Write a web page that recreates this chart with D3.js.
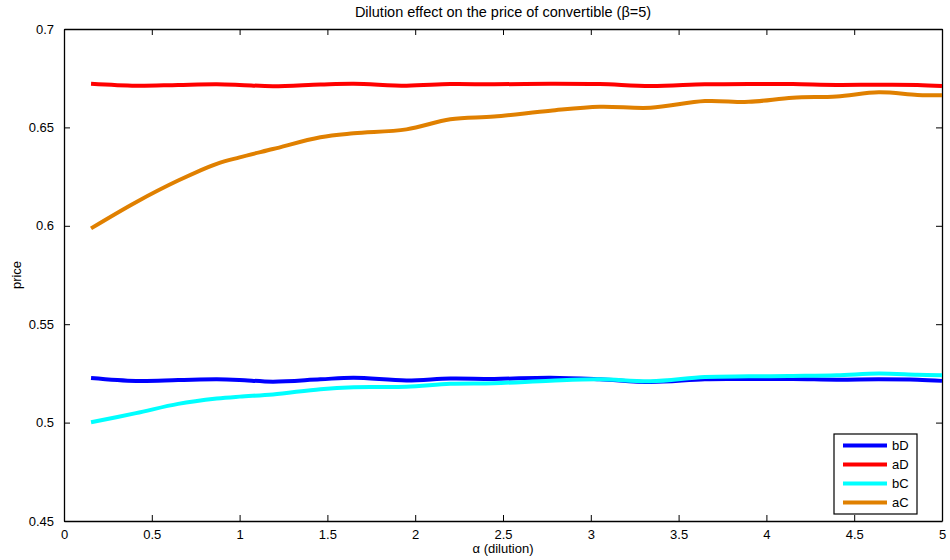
<!DOCTYPE html>
<html>
<head>
<meta charset="utf-8">
<script src="https://cdn.jsdelivr.net/npm/d3@7"></script>
<style>
  body { margin: 0; background: #fff; }
  text { font-family: "Liberation Sans", Arial, sans-serif; }
</style>
</head>
<body>
<div id="chart"></div>
<script>
// data
const alpha = [0.154, 0.41, 0.65, 0.87, 1.0, 1.19, 1.46, 1.65, 1.95, 2.2, 2.45,
               2.77, 3.05, 3.34, 3.65, 3.9, 4.15, 4.4, 4.64, 4.86, 5.0];
const bD = [0.5227, 0.5212, 0.5216, 0.5220, 0.5217, 0.5208, 0.5220, 0.5228, 0.5214, 0.5224, 0.5222,
            0.5228, 0.5220, 0.5206, 0.5220, 0.5221, 0.5222, 0.5218, 0.5220, 0.5218, 0.5212];
const aD = [0.6722, 0.6712, 0.6716, 0.6719, 0.6716, 0.6709, 0.6718, 0.6722, 0.6712, 0.6720, 0.6719,
            0.6722, 0.6720, 0.6710, 0.6719, 0.6721, 0.6720, 0.6716, 0.6717, 0.6716, 0.6710];
const bC = [0.5002, 0.5048, 0.5095, 0.5122, 0.5132, 0.5143, 0.5170, 0.5180, 0.5182, 0.5197, 0.5200,
            0.5213, 0.5220, 0.5210, 0.5232, 0.5235, 0.5237, 0.5240, 0.5250, 0.5243, 0.5240];
const aC = [0.5987, 0.6120, 0.6230, 0.6315, 0.6348, 0.6390, 0.6450, 0.6470, 0.6490, 0.6541, 0.6555,
            0.6585, 0.6605, 0.6600, 0.6634, 0.6630, 0.6651, 0.6657, 0.6678, 0.6665, 0.6663];

const seriesNames = ["bD", "aD", "bC", "aC"];
const seriesValues = [bD, aD, bC, aC];
const seriesColors = ["#0000ff", "#ff0000", "#00ffff", "#e08000"];

const xTicks = [0, 0.5, 1, 1.5, 2, 2.5, 3, 3.5, 4, 4.5, 5];
const yTicks = [0.45, 0.5, 0.55, 0.6, 0.65, 0.7];

//SVG size and margins
const svgWidth = 950;
const svgHeight = 560;
const margin = { top: 29, right: 8, bottom: 39, left: 64 };
const width = svgWidth - margin.left - margin.right;
const height = svgHeight - margin.top - margin.bottom;

const svg = d3.select("#chart")
    .append("svg")
    .attr("width", svgWidth)
    .attr("height", svgHeight);

const g = svg.append("g")
    .attr("transform", `translate(${margin.left}, ${margin.top})`);

const x = d3.scaleLinear().domain([0, 5]).range([0, width]);
const y = d3.scaleLinear().domain([0.45, 0.7]).range([height, 0]);

//Axes with inward ticks, matlab style box
const tickFmt = d => String(d);
const axisStyle = sel => {
    sel.select(".domain").attr("stroke", "#000").attr("stroke-width", 1.3);
    sel.selectAll(".tick line").attr("stroke", "#000");
    sel.selectAll(".tick text")
        .attr("font-size", "13px")
        .attr("fill", "#000")
        .attr("font-family", "'Liberation Sans', Arial, sans-serif");
};

g.append("g")
    .attr("transform", `translate(0, ${height})`)
    .call(d3.axisBottom(x).tickValues(xTicks).tickFormat(tickFmt).tickSizeInner(-6).tickSizeOuter(0).tickPadding(9))
    .call(axisStyle);

g.append("g")
    .call(d3.axisTop(x).tickValues(xTicks).tickFormat("").tickSizeInner(-6).tickSizeOuter(0))
    .call(axisStyle);

g.append("g")
    .call(d3.axisLeft(y).tickValues(yTicks).tickFormat(tickFmt).tickSizeInner(-6).tickSizeOuter(0).tickPadding(10))
    .call(axisStyle);

g.append("g")
    .attr("transform", `translate(${width}, 0)`)
    .call(d3.axisRight(y).tickValues(yTicks).tickFormat("").tickSizeInner(-6).tickSizeOuter(0))
    .call(axisStyle);

//Lines
const line = d3.line()
    .x((d, i) => x(alpha[i]))
    .y(d => y(d))
    .curve(d3.curveCatmullRom);

g.selectAll(".series")
    .data(seriesValues)
    .enter()
    .append("path")
    .attr("class", "series")
    .attr("d", d => line(d))
    .attr("fill", "none")
    .attr("stroke", (d, i) => seriesColors[i])
    .attr("stroke-width", 4)
    .attr("stroke-linejoin", "round");

//Legend
const legend = g.append("g")
    .attr("transform", `translate(${834 - margin.left}, ${434 - margin.top})`);

legend.append("rect")
    .attr("width", 83)
    .attr("height", 80)
    .attr("fill", "#fff")
    .attr("stroke", "#000")
    .attr("stroke-width", 1.2);

seriesNames.forEach((name, i) => {
    const row = legend.append("g").attr("transform", `translate(0, ${11.5 + i * 19})`);
    row.append("line")
        .attr("x1", 9).attr("x2", 53)
        .attr("stroke", seriesColors[i])
        .attr("stroke-width", 4);
    row.append("text")
        .attr("x", 58)
        .attr("dy", "0.35em")
        .attr("font-size", "13px")
        .text(name);
});

//Title and axis labels
svg.append("text")
    .attr("x", margin.left + width / 2)
    .attr("y", 17)
    .attr("text-anchor", "middle")
    .attr("font-size", "14.5px")
    .text("Dilution effect on the price of convertible (β=5)");

svg.append("text")
    .attr("x", margin.left + width / 2)
    .attr("y", 553)
    .attr("text-anchor", "middle")
    .attr("font-size", "13px")
    .text("α (dilution)");

svg.append("text")
    .attr("transform", `translate(21, ${margin.top + height / 2}) rotate(-90)`)
    .attr("text-anchor", "middle")
    .attr("font-size", "13px")
    .text("price");
</script>
</body>
</html>
